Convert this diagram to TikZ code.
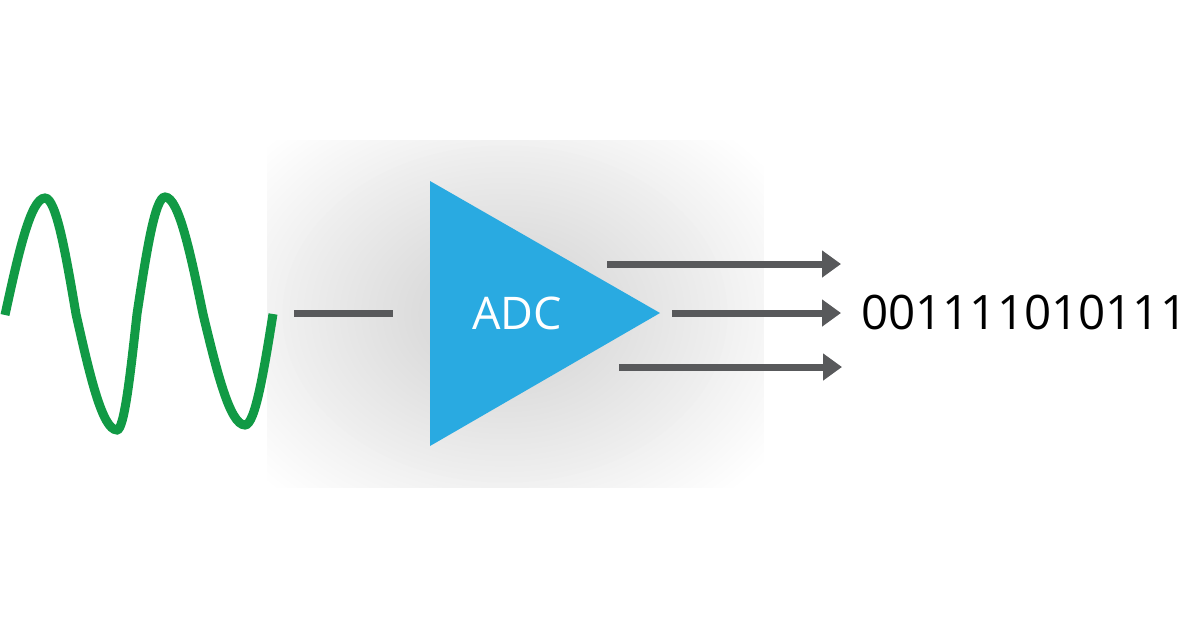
\documentclass[tikz,border=0pt]{standalone}
\usepackage{fontspec}
\setmainfont{Open Sans}
\usetikzlibrary{arrows.meta}
\definecolor{wavegreen}{HTML}{119A45}
\definecolor{adcblue}{HTML}{29AAE1}
\definecolor{linegray}{HTML}{58595B}
\definecolor{glowgray}{HTML}{DCDCDC}
\tikzset{
  wave/.style={draw=wavegreen, line width=9pt},
  gline/.style={draw=linegray, line width=7pt},
  garrow/.style={gline, -{Triangle[length=19pt,width=26pt]}, color=linegray},
  adctext/.style={text=white, inner sep=0pt, font=\fontsize{45}{48}\selectfont},
  bitstext/.style={text=black, inner sep=0pt, anchor=west, font=\fontsize{47.5}{50}\selectfont}
}
\begin{document}
\begin{tikzpicture}[x=1pt,y=-1pt]
\useasboundingbox[fill=white] (0,0) rectangle (1200,627);
% background glow
\begin{scope}
  \clip (267,140) rectangle (763,487);
  \foreach \i in {0,...,42}{
    \pgfmathsetmacro{\f}{1-\i/46}
    \pgfmathsetmacro{\c}{min(100,\i*100/34)}
    \fill[glowgray!\c!white] (505,314) ellipse [x radius=\f*330pt, y radius=\f*250pt];
  }
\end{scope}
% sine wave
\draw[wave] (5,315) sin (45,198) cos (76,314) sin (117,430) cos (137,314)
  sin (165,197) cos (203,314) sin (245,425) cos (273,314);
% input line
\coordinate (in1) at (294,313);
\coordinate (in2) at (393,313);
\draw[gline] (in1) -- (in2);
% ADC triangle
\coordinate (tA) at (430,181);
\coordinate (tB) at (430,446);
\coordinate (tC) at (660,313);
\fill[adcblue] (tA) -- (tC) -- (tB) -- cycle;
\node[adctext] (adc) at (517,313) {ADC};
% output arrows
\coordinate (o1s) at (607,264);
\coordinate (o1e) at (841,264);
\coordinate (o2s) at (672,313);
\coordinate (o2e) at (841,313);
\coordinate (o3s) at (619,367);
\coordinate (o3e) at (842,367);
\draw[garrow] (o1s) -- (o1e);
\draw[garrow] (o2s) -- (o2e);
\draw[garrow] (o3s) -- (o3e);
% output bits
\node[bitstext] (bits) at (861,313) {001111010111};
\end{tikzpicture}
\end{document}
